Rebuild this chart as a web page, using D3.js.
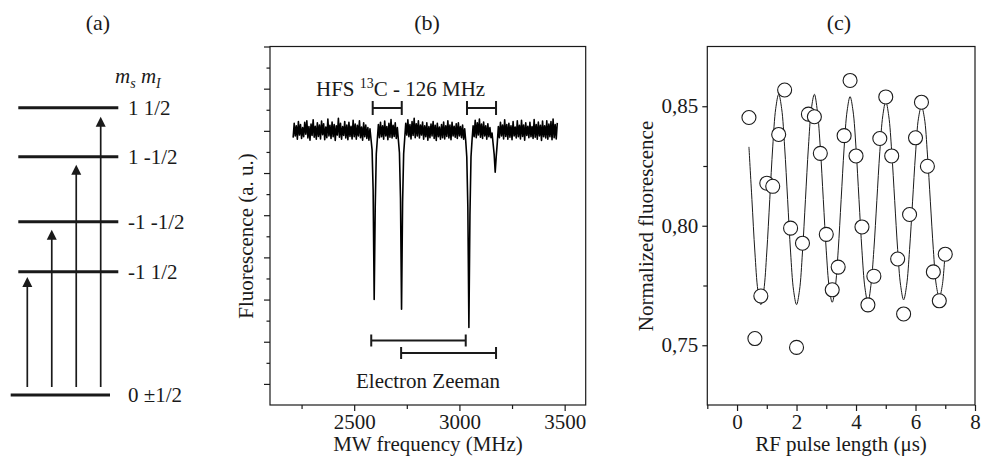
<!DOCTYPE html>
<html>
<head>
<meta charset="utf-8">
<script src="https://cdn.jsdelivr.net/npm/d3@7"></script>
<style>
body { margin: 0; background: #fff; }
svg, svg text { font-family: "Liberation Serif", "DejaVu Serif", "Times New Roman", serif; }
svg text { fill: #1a1a1a; }
</style>
</head>
<body>
<div id="chart"></div>
<script>
// ---- (a) level scheme ----
const levelLabels = ['0 \u00b11/2', '-1 1/2', '-1 -1/2', '1 -1/2', '1 1/2'];
const levelEnergy = [0, 12.3, 17.3, 23.8, 28.7];
const arrowTips = [11.8, 16.5, 23.0, 27.8];
const arrowBase = 0.8;

// ---- (b) ODMR spectrum, 5 MHz steps from 2210 MHz ----
const freqStart = 2210;
const freqStep = 5;
const fluo = [
  5.84, 6.18, 5.88, 6.12, 5.80, 6.22, 5.90, 6.15, 5.82, 6.08, 5.86, 6.20,
  5.92, 6.24, 5.83, 6.10, 5.78, 6.16, 5.89, 6.26, 5.85, 6.11, 5.80, 6.19,
  5.87, 6.14, 5.81, 6.23, 5.91, 6.17, 5.79, 6.09, 5.84, 6.28, 5.88, 6.13,
  5.82, 6.21, 5.86, 6.15, 5.77, 6.12, 5.90, 6.30, 5.85, 6.18, 5.80, 6.10,
  5.89, 6.22, 5.83, 6.14, 5.79, 6.20, 5.87, 6.11, 5.81, 6.25, 5.86, 6.16,
  5.80, 6.13, 5.88, 6.24, 5.84, 6.09, 5.78, 6.19, 5.86, 6.14, 5.82, 6.08,
  5.78, 6.05, 5.80, 5.55, 4.60, 2.00, 4.20, 5.45, 5.80, 6.15, 5.84, 6.20,
  5.86, 6.12, 5.80, 6.23, 5.88, 6.10, 5.79, 6.18, 5.85, 6.27, 5.83, 6.13,
  5.87, 6.19, 5.82, 6.08, 5.78, 5.48, 4.40, 1.77, 4.30, 5.45, 5.82, 6.18,
  5.90, 6.26, 5.86, 6.15, 5.81, 6.22, 5.89, 6.30, 5.84, 6.17, 5.88, 6.24,
  5.83, 6.14, 5.90, 6.21, 5.80, 6.12, 5.86, 6.19, 5.78, 6.10, 5.84, 6.16,
  5.88, 6.22, 5.82, 6.13, 5.77, 6.18, 5.86, 6.09, 5.80, 6.15, 5.84, 6.21,
  5.81, 6.12, 5.87, 6.24, 5.83, 6.14, 5.79, 6.20, 5.88, 6.11, 5.85, 6.17,
  5.82, 6.19, 5.88, 6.10, 5.84, 6.14, 5.80, 6.05, 5.76, 5.38, 4.20, 1.34,
  4.00, 5.38, 5.78, 6.12, 5.86, 6.25, 5.84, 6.19, 5.90, 6.28, 5.85, 6.16,
  5.82, 6.21, 5.88, 6.12, 5.80, 6.17, 5.86, 6.08, 5.84, 5.95, 5.70, 5.45,
  5.02, 5.40, 5.72, 6.10, 5.84, 6.20, 5.88, 6.14, 5.81, 6.26, 5.87, 6.15,
  5.80, 6.18, 5.85, 6.12, 5.79, 6.22, 5.88, 6.09, 5.83, 6.24, 5.86, 6.13,
  5.81, 6.25, 5.87, 6.14, 5.78, 6.19, 5.89, 6.11, 5.84, 6.20, 5.86, 6.10,
  5.82, 6.27, 5.85, 6.15, 5.80, 6.21, 5.88, 6.13, 5.77, 6.23, 5.86, 6.12,
  5.83, 6.24, 5.80, 6.16, 5.86, 6.22, 5.79, 6.28, 5.84, 6.15, 5.81, 6.19
];
const hfsBars = [[2588, 2726], [3036, 3174]];
const hfsLevel = 6.54;
const zeemanBars = [[2581, 3030], [2723, 3174]];
const zeemanLevels = [1.03, 0.73];
const freqTicks = [2500, 3000, 3500];
const freqMinor = [2250, 2750, 3250];

// ---- (c) Rabi oscillation ----
const pulseLen = [0.4, 0.6, 0.8, 1.0, 1.2, 1.4, 1.6, 1.8, 2.0, 2.2, 2.4, 2.6, 2.8, 3.0, 3.2, 3.4, 3.6,
  3.8, 4.0, 4.2, 4.4, 4.6, 4.8, 5.0, 5.2, 5.4, 5.6, 5.8, 6.0, 6.2, 6.4, 6.6, 6.8, 7.0];
const normFluo = [0.8453, 0.7528, 0.7706, 0.8178, 0.8165, 0.8382, 0.8568, 0.7990, 0.7491, 0.7927,
  0.8467, 0.8456, 0.8303, 0.7964, 0.7732, 0.7827, 0.8377, 0.8608, 0.8292, 0.7995, 0.7669, 0.7789,
  0.8365, 0.8539, 0.8292, 0.7861, 0.7631, 0.8047, 0.8368, 0.8517, 0.8249, 0.7807, 0.7686, 0.7881];
const fitTime = d3.range(4, 71).map(i => i / 10);
const fitFluo = [
  0.833, 0.811, 0.789, 0.773, 0.767, 0.773, 0.789, 0.811, 0.833, 0.849, 0.855, 0.849,
  0.833, 0.811, 0.789, 0.773, 0.767, 0.773, 0.789, 0.811, 0.833, 0.849, 0.855,
  0.848, 0.8325, 0.811, 0.7895, 0.774, 0.768, 0.774, 0.7895, 0.811, 0.8325, 0.848, 0.854,
  0.848, 0.8325, 0.811, 0.7895, 0.774, 0.768,
  0.775, 0.790, 0.8105, 0.831, 0.846, 0.852, 0.846, 0.831, 0.8105, 0.790, 0.775, 0.769,
  0.775, 0.790, 0.810, 0.830, 0.845, 0.850, 0.845, 0.830, 0.810, 0.790, 0.775, 0.770, 0.775, 0.790
];
const rfTicks = [0, 2, 4, 6, 8];
const rfMinor = [-1, 1, 3, 5, 7];
const nfTicks = [0.75, 0.80, 0.85];
const nfMinor = [0.775, 0.825];

const ink = '#1a1a1a';
const serif = '"Liberation Serif", "DejaVu Serif", "Times New Roman", serif';
const svg = d3.select('#chart').append('svg')
    .attr('width', 981)
    .attr('height', 456)
    .attr('font-family', serif);

// panel titles
svg.selectAll('text.title')
    .data([['(a)', 98], ['(b)', 427], ['(c)', 839]])
    .enter().append('text')
    .attr('class', 'title')
    .attr('x', d => d[1])
    .attr('y', 30)
    .attr('text-anchor', 'middle')
    .attr('font-size', 22)
    .text(d => d[0]);

// ================= (a) =================
const yA = d3.scaleLinear().domain([0, 28.7]).range([395, 107.7]);
const xArrow = d3.scalePoint().domain(d3.range(arrowTips.length)).range([27.3, 100.7]);
const gA = svg.append('g');

gA.selectAll('line.level')
    .data(levelEnergy)
    .enter().append('line')
    .attr('x1', (d, i) => i === 0 ? 10.7 : 18.3)
    .attr('x2', (d, i) => i === 0 ? 110 : 118.3)
    .attr('y1', d => yA(d))
    .attr('y2', d => yA(d))
    .attr('stroke', ink)
    .attr('stroke-width', 3);

gA.selectAll('text.level')
    .data(levelEnergy)
    .enter().append('text')
    .attr('x', 128)
    .attr('y', d => yA(d))
    .attr('dy', '0.35em')
    .attr('font-size', 21)
    .text((d, i) => levelLabels[i]);

gA.selectAll('line.arrow')
    .data(arrowTips)
    .enter().append('line')
    .attr('x1', (d, i) => xArrow(i))
    .attr('x2', (d, i) => xArrow(i))
    .attr('y1', yA(arrowBase))
    .attr('y2', d => yA(d) + 8)
    .attr('stroke', ink)
    .attr('stroke-width', 1.7);

gA.selectAll('path.head')
    .data(arrowTips)
    .enter().append('path')
    .attr('d', (d, i) => {
        const x = xArrow(i), y = yA(d);
        return `M${x},${y}L${x - 5},${y + 10}L${x + 5},${y + 10}Z`;
    })
    .attr('fill', ink);

const msmi = gA.append('text')
    .attr('x', 115)
    .attr('y', 83)
    .attr('font-size', 21)
    .attr('font-style', 'italic');
msmi.append('tspan').text('m');
msmi.append('tspan').attr('font-size', 14).attr('dy', 5).text('s');
msmi.append('tspan').attr('dy', -5).text(' m');
msmi.append('tspan').attr('font-size', 14).attr('dy', 5).text('I');

// ================= (b) =================
const xB = d3.scaleLinear().domain([2100, 3600]).range([270, 585.7]);
const yB = d3.scaleLinear().domain([-0.5, 8]).range([405, 46.5]);
const gB = svg.append('g');

gB.append('rect')
    .attr('x', xB(2100)).attr('y', yB(8))
    .attr('width', xB(3600) - xB(2100)).attr('height', yB(-0.5) - yB(8))
    .attr('fill', 'none').attr('stroke', ink).attr('stroke-width', 1.2);

function styleAxis(g) {
    g.attr('font-size', 21).attr('font-family', serif);
    g.select('.domain').remove();
    g.selectAll('line').attr('stroke', ink).attr('stroke-width', 1.2);
}

gB.append('g')
    .attr('transform', `translate(0,${yB(-0.5)})`)
    .call(d3.axisBottom(xB).tickValues(freqTicks).tickFormat(d3.format('d'))
        .tickSize(6).tickPadding(3).tickSizeOuter(0))
    .call(styleAxis);
gB.append('g')
    .attr('transform', `translate(0,${yB(-0.5)})`)
    .call(d3.axisBottom(xB).tickValues(freqMinor).tickSize(4).tickFormat('').tickSizeOuter(0))
    .call(styleAxis);
gB.append('g')
    .attr('transform', `translate(${xB(2100)},0)`)
    .call(d3.axisLeft(yB).tickValues(d3.range(0, 9)).tickSize(6).tickFormat('').tickSizeOuter(0))
    .call(styleAxis);
gB.append('g')
    .attr('transform', `translate(${xB(2100)},0)`)
    .call(d3.axisLeft(yB).tickValues(d3.range(0.5, 8, 1)).tickSize(3.5).tickFormat('').tickSizeOuter(0))
    .call(styleAxis);

const spectrum = fluo.map((v, i) => [freqStart + i * freqStep, v]);
gB.append('path')
    .datum(spectrum)
    .attr('d', d3.line().x(d => xB(d[0])).y(d => yB(d[1])))
    .attr('fill', 'none')
    .attr('stroke', '#000')
    .attr('stroke-width', 1.6)
    .attr('stroke-linejoin', 'round');

function bracket(g, x1, x2, y, cap) {
    g.append('path')
        .attr('d', `M${x1},${y}H${x2}M${x1},${y - cap}V${y + cap}M${x2},${y - cap}V${y + cap}`)
        .attr('fill', 'none')
        .attr('stroke', ink)
        .attr('stroke-width', 2);
}
hfsBars.forEach(b => bracket(gB, xB(b[0]), xB(b[1]), yB(hfsLevel), 7));
zeemanBars.forEach((b, i) => bracket(gB, xB(b[0]), xB(b[1]), yB(zeemanLevels[i]), 6));

const hfs = gB.append('text').attr('x', 316).attr('y', 96).attr('font-size', 21);
hfs.append('tspan').text('HFS ');
hfs.append('tspan').attr('font-size', 14).attr('dy', -8).text('13');
hfs.append('tspan').attr('dy', 8).text('C - 126 MHz');

gB.append('text')
    .attr('x', 428).attr('y', 388)
    .attr('text-anchor', 'middle')
    .attr('font-size', 21)
    .text('Electron Zeeman');

gB.append('text')
    .attr('x', 428).attr('y', 451)
    .attr('text-anchor', 'middle')
    .attr('font-size', 21)
    .text('MW frequency (MHz)');

gB.append('text')
    .attr('transform', 'translate(253,236) rotate(-90)')
    .attr('text-anchor', 'middle')
    .attr('font-size', 21)
    .text('Fluorescence (a. u.)');

// ================= (c) =================
const xC = d3.scaleLinear().domain([-1, 8]).range([707.3, 975]);
const yC = d3.scaleLinear().domain([0.725, 0.875]).range([405, 46.5]);
const gC = svg.append('g');

gC.append('rect')
    .attr('x', xC(-1)).attr('y', yC(0.875))
    .attr('width', xC(8) - xC(-1)).attr('height', yC(0.725) - yC(0.875))
    .attr('fill', 'none').attr('stroke', ink).attr('stroke-width', 1.2);

gC.append('g')
    .attr('transform', `translate(0,${yC(0.725)})`)
    .call(d3.axisBottom(xC).tickValues(rfTicks).tickSize(6).tickPadding(3).tickSizeOuter(0))
    .call(styleAxis);
gC.append('g')
    .attr('transform', `translate(0,${yC(0.725)})`)
    .call(d3.axisBottom(xC).tickValues(rfMinor).tickSize(4).tickFormat('').tickSizeOuter(0))
    .call(styleAxis);
gC.append('g')
    .attr('transform', `translate(${xC(-1)},0)`)
    .call(d3.axisLeft(yC).tickValues(nfTicks).tickSize(5).tickPadding(4)
        .tickFormat(d => d3.format('.2f')(d).replace('.', ',')).tickSizeOuter(0))
    .call(styleAxis);
gC.append('g')
    .attr('transform', `translate(${xC(-1)},0)`)
    .call(d3.axisLeft(yC).tickValues(nfMinor).tickSize(4).tickFormat('').tickSizeOuter(0))
    .call(styleAxis);

gC.append('path')
    .datum(fitTime.map((t, i) => [t, fitFluo[i]]))
    .attr('d', d3.line().curve(d3.curveCatmullRom).x(d => xC(d[0])).y(d => yC(d[1])))
    .attr('fill', 'none')
    .attr('stroke', ink)
    .attr('stroke-width', 1);

gC.selectAll('circle')
    .data(pulseLen)
    .enter().append('circle')
    .attr('cx', d => xC(d))
    .attr('cy', (d, i) => yC(normFluo[i]))
    .attr('r', 7)
    .attr('fill', '#fff')
    .attr('stroke', ink)
    .attr('stroke-width', 1.1);

gC.append('text')
    .attr('x', 841).attr('y', 451)
    .attr('text-anchor', 'middle')
    .attr('font-size', 21)
    .text('RF pulse length (\u03bcs)');

gC.append('text')
    .attr('transform', 'translate(653,226) rotate(-90)')
    .attr('text-anchor', 'middle')
    .attr('font-size', 21)
    .text('Normalized fluorescence');
</script>
</body>
</html>
